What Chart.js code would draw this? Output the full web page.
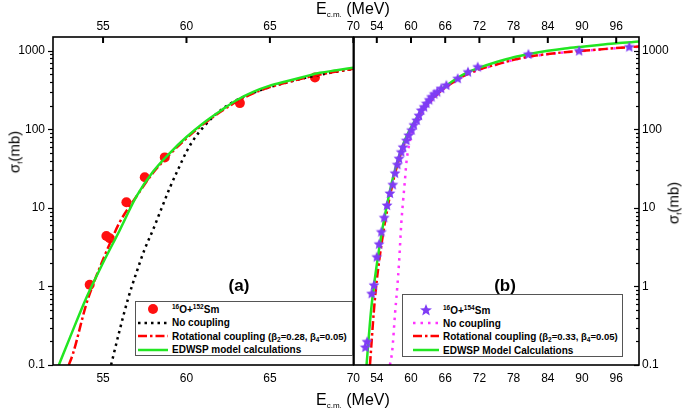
<!DOCTYPE html>
<html>
<head>
<meta charset="utf-8">
<script src="https://cdn.jsdelivr.net/npm/chart.js@4.4.1/dist/chart.umd.min.js"></script>
<style>
    body { margin: 0; background: #fff; }
    #wrap { position: relative; width: 685px; height: 412px; overflow: hidden; font-family: 'Liberation Sans', Arial, sans-serif; color: #000; }
    canvas { position: absolute; top: 0; }
    #chartA { left: 0; }
    #chartB { left: 340px; }
    .ttl { position: absolute; font-size: 16px; line-height: 16px; white-space: nowrap; }
    .ttl sub { font-size: 8px; line-height: 0; vertical-align: -3px; }
    .ylab { position: absolute; font-size: 15px; line-height: 15px; white-space: nowrap; transform: translate(-50%, -50%) rotate(-90deg); }
    .ylab sub { font-size: 8px; line-height: 0; vertical-align: -3px; }
    .panel { position: absolute; font-size: 17px; font-weight: bold; transform: translate(-50%, -50%); }
    .leg { position: absolute; box-sizing: border-box; border: 1.5px solid #555; background: #fff; font-size: 10px; font-weight: bold; }
    .row { position: absolute; height: 12px; display: flex; align-items: center; white-space: nowrap; }
    .row svg { margin-right: 3px; }
    .row sup { font-size: 6.5px; line-height: 0; vertical-align: 4px; }
    .row sub { font-size: 6.5px; line-height: 0; vertical-align: -2px; }
    .sm { font-size: 9.5px; }
</style>
</head>
<body>
<div id="wrap">
    <canvas id="chartA" width="366" height="412"></canvas>
    <canvas id="chartB" width="345" height="412"></canvas>

    <div class="ttl" style="left:316px; top:1px;">E<sub>c.m.</sub> (MeV)</div>
    <div class="ttl" style="left:316px; top:392px;">E<sub>c.m.</sub> (MeV)</div>
    <div class="ylab" style="left:14px; top:152px;">σ<sub>f</sub>(mb)</div>
    <div class="ylab" style="left:673px; top:203px;">σ<sub>f</sub>(mb)</div>
    <div class="panel" style="left:239px; top:286px;">(a)</div>
    <div class="panel" style="left:505px; top:286px;">(b)</div>

    <div class="leg" style="left:135px; top:301px; width:218px; height:55px;">
        <div class="row" style="left:1px; top:1px;">
            <svg width="32" height="12"><circle cx="16" cy="6" r="5" fill="#ff1010"/></svg>
            <span><sup>16</sup>O+<sup>152</sup>Sm</span>
        </div>
        <div class="row" style="left:1px; top:14.5px;">
            <svg width="32" height="12"><line x1="1" y1="6" x2="31" y2="6" stroke="#000" stroke-width="2.5" stroke-dasharray="2.5,4"/></svg>
            <span>No coupling</span>
        </div>
        <div class="row" style="left:1px; top:28px;">
            <svg width="32" height="12"><line x1="1" y1="6" x2="31" y2="6" stroke="#ff0000" stroke-width="2.5" stroke-dasharray="9,3,2.5,3"/></svg>
            <span>Rotational coupling <span class="sm">(β<sub>2</sub>=0.28, β<sub>4</sub>=0.05)</span></span>
        </div>
        <div class="row" style="left:1px; top:41.5px;">
            <svg width="32" height="12"><line x1="1" y1="6" x2="31" y2="6" stroke="#22e622" stroke-width="2.5"/></svg>
            <span>EDWSP model calculations</span>
        </div>
    </div>

    <div class="leg" style="left:402px; top:294px; width:221px; height:63px;">
        <div class="row" style="left:9px; top:9px;">
            <svg width="28" height="12"><polygon points="14,0 15.7,4.2 20,4.4 16.6,7.1 17.8,11.4 14,8.9 10.2,11.4 11.4,7.1 8,4.4 12.3,4.2" fill="#7f3cf5"/></svg>
            <span><sup>16</sup>O+<sup>154</sup>Sm</span>
        </div>
        <div class="row" style="left:9px; top:22px;">
            <svg width="28" height="12"><line x1="1" y1="6" x2="27" y2="6" stroke="#ff33ff" stroke-width="2.5" stroke-dasharray="2.5,5"/></svg>
            <span>No coupling</span>
        </div>
        <div class="row" style="left:9px; top:35px;">
            <svg width="28" height="12"><line x1="1" y1="6" x2="27" y2="6" stroke="#ff0000" stroke-width="2.5" stroke-dasharray="9,3,2.5,3"/></svg>
            <span>Rotational coupling <span class="sm">(β<sub>2</sub>=0.33, β<sub>4</sub>=0.05)</span></span>
        </div>
        <div class="row" style="left:9px; top:49px;">
            <svg width="28" height="12"><line x1="1" y1="6" x2="27" y2="6" stroke="#22e622" stroke-width="2.5"/></svg>
            <span>EDWSP Model Calculations</span>
        </div>
    </div>
</div>

<script>
// axis ticks
const yTicks = [0.1, 1, 10, 100, 1000];
const xTicksA = [55, 60, 65, 70];
const xTicksB = [54, 60, 66, 72, 78, 84, 90, 96];

// (a) 16O + 152Sm
const expA_E = [54.2, 55.2, 55.4, 56.4, 57.5, 58.7, 63.2, 67.7];
const expA_sig = [1.05, 4.4, 4.1, 11.8, 24.6, 44, 216, 457];

const edwspA_E = [52.35, 53, 54, 55, 56, 57, 58, 59, 60, 61, 62, 63, 64, 65, 66, 67, 68, 69, 70];
const edwspA_sig = [0.1, 0.22, 0.72, 2.0, 5.2, 14, 29, 50, 80, 120, 170, 235, 300, 360, 410, 465, 525, 565, 610];

const rotA_E = [52.95, 53.2, 54, 54.5, 55, 55.5, 56, 57, 58, 59, 60, 61, 62, 63, 64, 65, 66, 67, 68, 69, 70];
const rotA_sig = [0.1, 0.14, 0.6, 1.2, 2.2, 3.9, 6.6, 14, 28, 48, 77, 116, 165, 225, 288, 345, 395, 448, 500, 545, 590];

const noneA_E = [55.48, 56, 56.5, 57, 57.5, 58, 58.5, 59, 59.5, 60, 60.5, 61, 61.5, 62, 62.5, 63, 64, 65, 66, 67, 68, 69, 70];
const noneA_sig = [0.1, 0.28, 0.7, 1.5, 3.0, 5.3, 9.8, 18, 31, 52, 78, 106, 138, 172, 205, 235, 292, 345, 395, 447, 496, 543, 588];

// (b) 16O + 154Sm
const expB_E = [52.0, 52.3, 53.1, 53.5, 54.0, 54.4, 54.8, 55.3, 55.8, 56.3, 56.8, 57.2, 57.6, 57.9, 58.3, 58.6, 59.2, 59.6, 60.1, 60.5,
    61.0, 61.4, 61.8, 62.3, 62.7, 63.2, 63.6, 64.1, 64.6, 65.3, 66.2, 68.2, 70.0, 71.7, 80.6, 89.5, 98.3];
const expB_sig = [0.17, 0.2, 0.82, 1.05, 2.4, 3.5, 5.0, 7.6, 10.9, 15.5, 20, 28, 36, 43, 52, 60, 73, 85, 99, 115,
    132, 152, 177, 195, 216, 240, 262, 285, 303, 335, 369, 449, 544, 631, 916, 1010, 1135];

const edwspB_E = [52.2, 53, 54, 55, 56, 57, 58, 59, 60, 61, 62, 63, 64, 65, 66, 68, 70, 72, 75, 78, 81, 84, 87, 90, 93, 96, 100];
const edwspB_sig = [0.1, 0.5, 1.9, 5.5, 13, 27, 48, 75, 105, 140, 180, 222, 265, 310, 352, 445, 535, 610, 720, 830, 920, 1000, 1070, 1130, 1190, 1250, 1310];

const rotB_E = [52.8, 53.5, 54, 55, 56, 57, 58, 59, 60, 61, 62, 63, 64, 65, 66, 68, 70, 72, 75, 78, 81, 84, 87, 90, 93, 96, 100];
const rotB_sig = [0.1, 0.5, 1.2, 4.2, 11, 24, 44, 70, 100, 135, 172, 212, 255, 298, 340, 425, 510, 580, 670, 770, 850, 910, 960, 1000, 1040, 1085, 1135];

const noneB_E = [56.3, 56.7, 57.2, 57.6, 57.9, 58.3, 58.6, 58.9, 59.2, 59.6, 60.1, 60.6, 61.2, 62, 63, 64, 65, 66, 68, 70, 72, 75, 78, 81, 84, 87, 90, 93, 96, 100];
const noneB_sig = [0.1, 0.15, 0.45, 1.0, 2.0, 6.4, 12, 21, 38, 60, 85, 110, 138, 168, 208, 250, 293, 335, 418, 505, 575, 665, 765, 845, 905, 955, 995, 1035, 1080, 1130];

const tickFont = { family: "'Liberation Sans', Arial, sans-serif", size: 12 };

const zip = ( xs, ys ) => xs.map( ( x, i ) => ( { x, y: ys[ i ] } ) );

function starImage ( color, size )
{
    const c = document.createElement( 'canvas' );
    c.width = c.height = size;
    const g = c.getContext( '2d' );
    const r = size / 2, ri = r * 0.45;
    g.beginPath();
    for ( let i = 0; i < 10; i++ )
    {
        const rad = i % 2 ? ri : r - 0.3;
        const a = -Math.PI / 2 + i * Math.PI / 5;
        g.lineTo( r + rad * Math.cos( a ), r + 0.6 + rad * Math.sin( a ) );
    }
    g.closePath();
    g.fillStyle = color;
    g.fill();
    return c;
}

function curve ( xs, ys, color, dash, order )
{
    return {
        data: zip( xs, ys ),
        showLine: true,
        borderColor: color,
        backgroundColor: color,
        borderWidth: 2.5,
        borderDash: dash,
        pointRadius: 0,
        cubicInterpolationMode: 'monotone',
        order
    };
}

// frame + inward/outward tick marks, since chart.js has no inside ticks
const framePlugin = {
    id: 'frame',
    afterDraw ( chart, args, opts )
    {
        const { ctx, chartArea: a, scales } = chart;
        ctx.save();
        ctx.strokeStyle = '#000';
        ctx.lineWidth = 1.6;
        ctx.strokeRect( a.left, a.top, a.right - a.left, a.bottom - a.top );

        const y = scales.y;
        ctx.lineWidth = 1.2;
        for ( let d = 0.1; d < 2000; d *= 10 )
        {
            for ( let k = 1; k <= 9; k++ )
            {
                const v = d * k;
                if ( v < y.min || v > y.max ) continue;
                const py = Math.round( y.getPixelForValue( v ) ) + 0.5;
                const len = k === 1 ? 5 : 3;
                ctx.beginPath();
                if ( opts.ySide === 'left' )
                {
                    ctx.moveTo( a.left - len, py );
                    ctx.lineTo( a.left, py );
                } else
                {
                    ctx.moveTo( a.right - len, py );
                    ctx.lineTo( a.right, py );
                }
                ctx.stroke();
            }
        }

        const top = scales.xTop;
        ctx.lineWidth = 2;
        top.ticks.forEach( t =>
        {
            const px = top.getPixelForValue( t.value );
            ctx.beginPath();
            ctx.moveTo( px, a.top );
            ctx.lineTo( px, a.top + 6 );
            ctx.stroke();
        } );
        ctx.restore();
    }
};

function xAxis ( pos, min, max, ticks, size, pad )
{
    return {
        type: 'linear',
        position: pos,
        min,
        max,
        afterBuildTicks: s => { s.ticks = ticks.map( v => ( { value: v } ) ); },
        afterFit: s => { s.height = size; },
        grid: { display: false, drawTicks: false },
        border: { display: false },
        ticks: { padding: pad, font: tickFont, color: '#000', maxRotation: 0, callback: v => String( v ) }
    };
}

function yAxis ( pos, size, pad )
{
    return {
        type: 'logarithmic',
        position: pos,
        min: 0.1,
        max: 1500,
        afterBuildTicks: s => { s.ticks = yTicks.map( v => ( { value: v } ) ); },
        afterFit: s => { s.width = size; },
        grid: { display: false, drawTicks: false },
        border: { display: false },
        ticks: { padding: pad, font: tickFont, color: '#000', callback: v => String( v ) }
    };
}

function baseOptions ( scales, padding, side )
{
    return {
        responsive: false,
        animation: false,
        devicePixelRatio: 1,
        layout: { padding },
        plugins: {
            legend: { display: false },
            tooltip: { enabled: false },
            frame: { ySide: side }
        },
        scales
    };
}

new Chart( document.getElementById( 'chartA' ), {
    type: 'scatter',
    data: {
        datasets: [
            curve( edwspA_E, edwspA_sig, '#22e622', [], 0 ),
            curve( rotA_E, rotA_sig, '#ff0000', [ 9, 3, 2.5, 3 ], 1 ),
            curve( noneA_E, noneA_sig, '#000000', [ 2.5, 4 ], 2 ),
            {
                data: zip( expA_E, expA_sig ),
                pointRadius: 5,
                pointBackgroundColor: '#ff1010',
                pointBorderColor: '#ff1010',
                pointBorderWidth: 0,
                order: 3
            }
        ]
    },
    options: baseOptions( {
        x: xAxis( 'bottom', 52, 70, xTicksA, 47, 6 ),
        xTop: xAxis( 'top', 52, 70, xTicksA, 37, 3 ),
        y: yAxis( 'left', 53, 8 )
    }, { left: 0, right: 12, top: 0, bottom: 0 }, 'left' ),
    plugins: [ framePlugin ]
} );

new Chart( document.getElementById( 'chartB' ), {
    type: 'scatter',
    data: {
        datasets: [
            {
                data: zip( expB_E, expB_sig ),
                pointStyle: starImage( '#7f3cf5', 12 ),
                order: 0
            },
            curve( edwspB_E, edwspB_sig, '#22e622', [], 1 ),
            curve( rotB_E, rotB_sig, '#ff0000', [ 9, 3, 2.5, 3 ], 2 ),
            curve( noneB_E, noneB_sig, '#ff33ff', [ 2.5, 5 ], 3 )
        ]
    },
    options: baseOptions( {
        x: xAxis( 'bottom', 50, 100, xTicksB, 47, 6 ),
        xTop: xAxis( 'top', 50, 100, xTicksB, 37, 3 ),
        y: yAxis( 'right', 46, 3 )
    }, { left: 14, right: 0, top: 0, bottom: 0 }, 'right' ),
    plugins: [ framePlugin ]
} );
</script>
</body>
</html>
